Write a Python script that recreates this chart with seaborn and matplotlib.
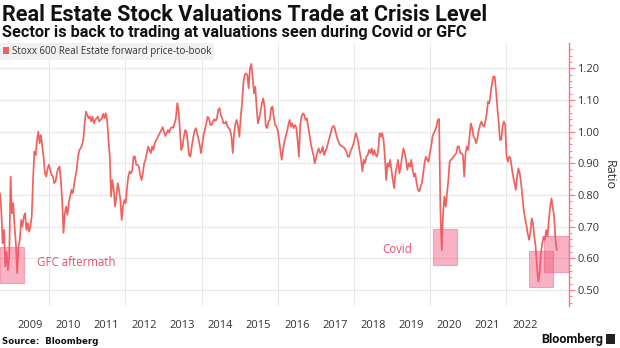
import numpy as np
import pandas as pd
import matplotlib
matplotlib.use("Agg")
import matplotlib.pyplot as plt
import matplotlib.dates as mdates
from matplotlib.patches import Patch, Rectangle
from matplotlib import font_manager
import seaborn as sns

# ---------------- data ----------------
start_date = "2008-09-17"
end_date = "2023-04-28"

ratio_2008_2010 = [
    0.805, 0.75, 0.647, 0.69, 0.574, 0.62, 0.563, 0.605, 0.858, 0.742,
    0.774, 0.70, 0.647, 0.553, 0.637, 0.658, 0.721, 0.70, 0.732, 0.742,
    0.689, 0.711, 0.684, 0.70, 0.732, 0.85, 0.937, 0.926, 0.974, 1.000,
    0.963, 0.989, 0.953, 0.916, 0.868, 0.858, 0.884, 0.895, 0.879, 0.863,
    0.858, 0.837, 0.842, 0.868, 0.884, 0.889, 0.847, 0.784, 0.68, 0.742,
    0.763, 0.737, 0.774, 0.795, 0.816, 0.805, 0.832, 0.858, 0.879, 0.921,
    0.942, 0.947, 0.958, 0.974, 1.026, 1.063, 1.053, 1.042, 1.047, 1.032,
    1.047, 1.026]
ratio_2011_2013 = [
    1.037, 1.042, 1.047, 1.032, 1.037, 1.042, 1.056, 1.042, 1.058, 1.037,
    0.974, 0.921, 0.795, 0.847, 0.816, 0.763, 0.795, 0.837, 0.816, 0.784,
    0.721, 0.763, 0.784, 0.774, 0.821, 0.858, 0.874, 0.868, 0.879, 0.921,
    0.921, 0.895, 0.895, 0.889, 0.863, 0.847, 0.868, 0.900, 0.911, 0.932,
    0.953, 0.942, 0.932, 0.953, 0.942, 0.963, 0.972, 0.980, 0.989, 0.997,
    1.005, 1.014, 1.000, 0.986, 0.995, 1.005, 0.997, 1.011, 1.014, 1.012,
    1.026, 1.042, 1.09, 1.068, 1.005, 0.942, 0.953, 0.984, 1.005, 1.000,
    0.963, 0.926]
ratio_2013_2015 = [
    0.921, 0.953, 0.979, 1.000, 1.011, 0.995, 0.979, 0.958, 0.932, 0.963,
    0.989, 1.007, 1.026, 1.047, 1.042, 1.021, 1.021, 1.032, 1.039, 1.034,
    1.042, 1.068, 1.074, 1.053, 1.042, 1.026, 1.026, 1.032, 1.016, 1.011,
    1.005, 0.984, 0.932, 0.995, 1.026, 1.037, 1.016, 0.984, 1.047, 1.089,
    1.153, 1.179, 1.184, 1.179, 1.137, 1.200, 1.214, 1.174, 1.121, 1.142,
    1.079, 1.026, 1.042, 1.063, 1.089, 1.105, 1.079, 1.016, 1.011, 1.032,
    1.037, 1.074, 1.079, 1.047, 1.021, 1.016, 1.005, 0.974, 0.942, 0.911,
    0.942, 0.968]
ratio_2016_2018 = [
    0.984, 1.000, 1.021, 1.037, 1.016, 1.026, 1.011, 1.021, 1.014, 0.974,
    0.921, 1.021, 1.047, 1.058, 1.053, 1.037, 1.042, 1.016, 0.989, 0.963,
    0.942, 0.926, 0.900, 0.916, 0.937, 0.947, 0.932, 0.937, 0.953, 0.926,
    0.937, 0.947, 0.963, 0.979, 0.995, 1.011, 1.018, 1.014, 0.995, 0.979,
    0.968, 0.958, 0.955, 0.953, 0.950, 0.944, 0.937, 0.921, 0.921, 0.937,
    0.947, 0.958, 0.974, 0.995, 0.984, 0.963, 0.937, 0.911, 0.874, 0.911,
    0.900, 0.921, 0.926, 0.942, 0.932, 0.947, 0.926, 0.942, 0.926, 0.921,
    0.942, 0.995]
ratio_2018_2021 = [
    0.984, 0.995, 0.974, 0.921, 0.847, 0.900, 0.889, 0.911, 0.879, 0.847,
    0.821, 0.868, 0.889, 0.911, 0.868, 0.889, 0.921, 0.947, 0.932, 0.911,
    0.879, 0.900, 0.889, 0.911, 0.879, 0.858, 0.868, 0.837, 0.816, 0.811,
    0.826, 0.837, 0.868, 0.900, 0.921, 0.911, 0.905, 0.932, 0.953, 0.984,
    0.995, 1.005, 1.016, 1.037, 1.04, 0.75, 0.626, 0.74, 0.795, 0.763,
    0.805, 0.847, 0.905, 0.911, 0.916, 0.921, 0.926, 0.932, 0.953, 0.953,
    0.932, 0.932, 0.926, 0.858, 0.932, 0.953, 0.942, 0.984]
ratio_2021_2023 = [
    1.026, 1.011, 0.984, 0.979, 0.963, 0.979, 1.005, 1.021, 1.032, 1.021,
    1.016, 1.032, 1.058, 1.095, 1.089, 1.121, 1.153, 1.174, 1.174, 1.132,
    1.079, 1.032, 0.974, 0.974, 1.016, 1.032, 1.021, 0.921, 0.905, 0.921,
    0.916, 0.884, 0.858, 0.837, 0.816, 0.858, 0.884, 0.868, 0.837, 0.795,
    0.753, 0.726, 0.705, 0.679, 0.658, 0.679, 0.726, 0.711, 0.668, 0.637,
    0.574, 0.526, 0.553, 0.616, 0.647, 0.668, 0.658, 0.689, 0.668, 0.721,
    0.763, 0.789, 0.758, 0.732, 0.658, 0.626]

ratio = (ratio_2008_2010 + ratio_2011_2013 + ratio_2013_2015 +
         ratio_2016_2018 + ratio_2018_2021 + ratio_2021_2023)
dates = pd.date_range(start_date, end_date, periods=len(ratio))

series_name = "Stoxx 600 Real Estate forward price-to-book"
year_labels = list(range(2009, 2023))
y_ticks = [0.50, 0.60, 0.70, 0.80, 0.90, 1.00, 1.10, 1.20]

# highlighted crisis periods
periods_start = ["2008-09-17", "2020-01-28", "2022-08-06", "2022-12-28"]
periods_end = ["2009-05-05", "2020-09-15", "2023-03-25", "2023-08-23"]
periods_low = [0.521, 0.578, 0.508, 0.558]
periods_high = [0.635, 0.692, 0.623, 0.671]
annot_text = ["GFC aftermath", "Covid"]
annot_date = ["2009-09-05", "2018-09-26"]
annot_value = [0.585, 0.626]

df = pd.DataFrame({"date": dates, "ratio": ratio})

# ---------------- style ----------------
sns.set_theme(style="white")
names = {f.name for f in font_manager.fontManager.ttflist}
title_font = "Roboto" if "Roboto" in names else "DejaVu Sans"
body_font = "Open Sans" if "Open Sans" in names else "DejaVu Sans"
plt.rcParams["font.family"] = [body_font, "DejaVu Sans"]

LINE = "#f0625f"
BOX = "#f2557a"
AXIS = "#f27588"
TXT = "#333333"
GRID = "#e8e8e8"

W, H = 620, 348
fig = plt.figure(figsize=(W / 100, H / 100), dpi=100)
ax = fig.add_axes([0 / W, 1 - 306 / H, 569 / W, (306 - 43) / H])

sns.lineplot(data=df, x="date", y="ratio", ax=ax, color=LINE, linewidth=1.25,
             zorder=3)

for s, e, lo, hi in zip(periods_start, periods_end, periods_low, periods_high):
    x0 = mdates.date2num(pd.Timestamp(s))
    x1 = mdates.date2num(pd.Timestamp(e))
    ax.add_patch(Rectangle((x0, lo), x1 - x0, hi - lo, facecolor=BOX,
                           alpha=0.45, edgecolor=BOX, linewidth=0.8,
                           zorder=4))

for t, d, v in zip(annot_text, annot_date, annot_value):
    ax.text(pd.Timestamp(d), v, t, color="#e4506d", fontsize=8.3,
            va="center", ha="left", zorder=5)

ax.set_xlim(pd.Timestamp("2008-09-17"), pd.Timestamp("2023-08-23"))
ax.set_ylim(0.449, 1.28)

# x axis: labels at mid-year, grid at start of even years
ax.set_xticks([pd.Timestamp(f"{y}-07-02") for y in year_labels])
ax.set_xticklabels([str(y) for y in year_labels])
ax.set_xticks([pd.Timestamp(f"{y}-01-01") for y in range(2010, 2023, 2)],
              minor=True)
ax.tick_params(axis="x", which="both", length=0, pad=10, labelsize=8,
               labelcolor=TXT)
ax.grid(axis="x", which="minor", color=GRID, linewidth=0.8)
ax.grid(axis="x", which="major", visible=False)

# y axis on right
ax.yaxis.tick_right()
ax.yaxis.set_label_position("right")
ax.set_yticks(y_ticks)
ax.set_yticklabels([f"{v:.2f}" for v in y_ticks])
ax.set_yticks(np.arange(0.46, 1.28, 0.02), minor=True)
ax.tick_params(axis="y", which="major", length=4, width=0.8, color=AXIS,
               pad=2, labelsize=8, labelcolor=TXT)
ax.tick_params(axis="y", which="minor", length=2, width=0.6, color=AXIS)
ax.grid(axis="y", which="major", color=GRID, linewidth=0.8)
ax.set_ylabel("Ratio", rotation=270, fontsize=9, color=TXT, labelpad=12)
ax.set_xlabel("")

for sp in ["left", "top", "bottom"]:
    ax.spines[sp].set_visible(False)
ax.spines["right"].set_color(AXIS)
ax.spines["right"].set_linewidth(1.0)

leg = ax.legend(handles=[Patch(facecolor=LINE, edgecolor="none")],
                labels=[series_name], loc="upper left",
                bbox_to_anchor=(0, 1), borderaxespad=0, frameon=True,
                fancybox=False, facecolor="#f1f1f1", edgecolor="none",
                framealpha=1, fontsize=7, handlelength=0.6,
                handleheight=0.6, handletextpad=0.3, borderpad=0.3,
                labelcolor=TXT)
leg.set_zorder(6)

# ---------------- header / footer ----------------
title = fig.text(2 / W, 1 - 4 / H, "Real Estate Stock Valuations Trade at Crisis Level",
                 fontsize=14, fontweight="bold", color="#111111",
                 family=[title_font, "DejaVu Sans"], va="top", ha="left")
subtitle = fig.text(2 / W, 1 - 25 / H,
                    "Sector is back to trading at valuations seen during Covid or GFC",
                    fontsize=10, fontweight="bold", color="#111111",
                    family=[title_font, "DejaVu Sans"], va="top", ha="left")
source = fig.text(2 / W, 1 - 341 / H, "Source:  Bloomberg", fontsize=6.5,
                  fontweight="bold", color="#111111",
                  family=["DejaVu Sans"], va="center", ha="left")
brand = fig.text(603 / W, 1 - 339 / H, "Bloomberg", fontsize=9,
                 fontweight="bold", color="#111111",
                 family=[title_font, "DejaVu Sans"], va="center", ha="right")
fig.patches.append(Rectangle((606 / W, 1 - 344 / H), 9 / W, 10 / H,
                             transform=fig.transFigure, facecolor="#222222",
                             edgecolor="none"))

fig.canvas.draw()
renderer = fig.canvas.get_renderer()
for t, target in [(title, 488), (subtitle, 468), (source, 96), (brand, 62)]:
    w = t.get_window_extent(renderer).width
    t.set_fontsize(t.get_fontsize() * target / w)

fig.savefig("out.png", dpi=100)
